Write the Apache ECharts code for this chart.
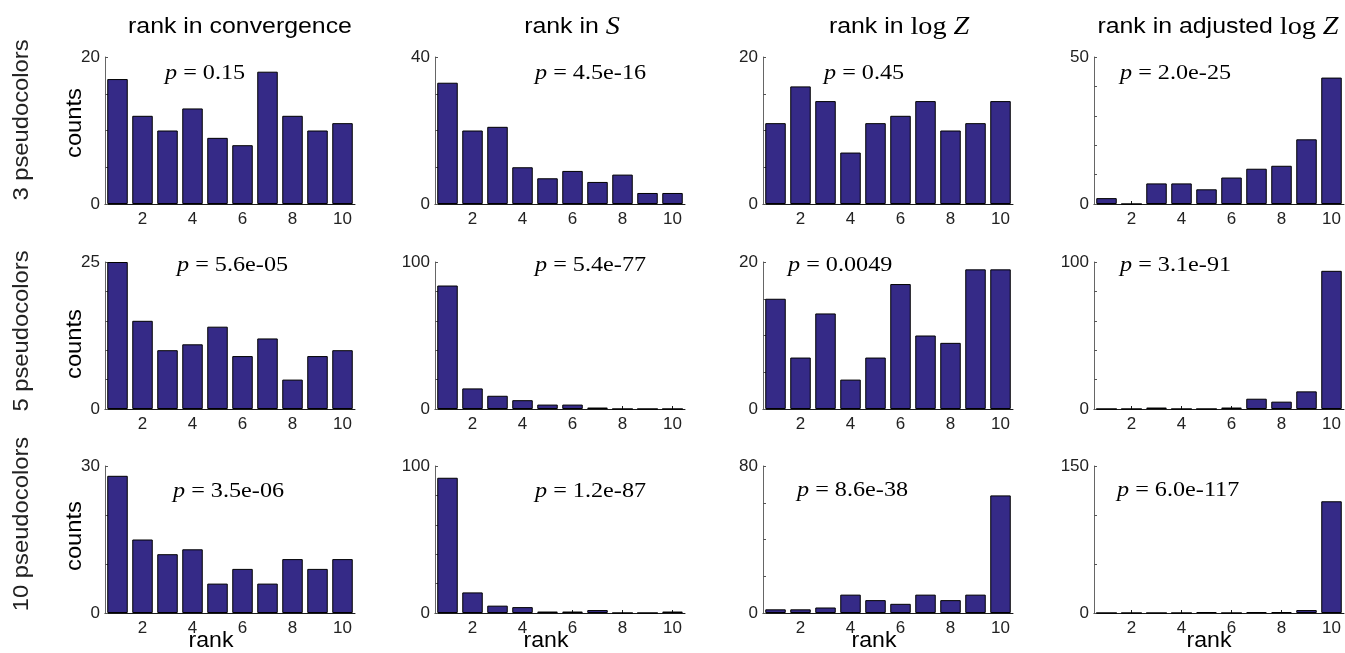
<!DOCTYPE html>
<html>
<head>
<meta charset="utf-8">
<script src="https://cdn.jsdelivr.net/npm/echarts@6/dist/echarts.min.js"></script>
<style>
  html, body { margin: 0; padding: 0; background: #ffffff; }
  #chart { width: 1345px; height: 653px; }
</style>
</head>
<body>
<div id="chart"></div>
<script>
// Rank categories on the x axis
const ranks = ['1', '2', '3', '4', '5', '6', '7', '8', '9', '10'];

// Counts per rank, 3 pseudocolors
const conv3    = [17, 12, 10, 13, 9, 8, 18, 12, 10, 11];
const entS3    = [33, 20, 21, 10, 7, 9, 6, 8, 3, 3];
const logZ3    = [11, 16, 14, 7, 11, 12, 14, 10, 11, 14];
const adjLogZ3 = [2, 0, 7, 7, 5, 9, 12, 13, 22, 43];

// Counts per rank, 5 pseudocolors
const conv5    = [25, 15, 10, 11, 14, 9, 12, 5, 9, 10];
const entS5    = [84, 14, 9, 6, 3, 3, 1, 0, 0, 0];
const logZ5    = [15, 7, 13, 4, 7, 17, 10, 9, 19, 19];
const adjLogZ5 = [0, 0, 1, 0, 0, 1, 7, 5, 12, 94];

// Counts per rank, 10 pseudocolors
const conv10    = [28, 15, 12, 13, 6, 9, 6, 11, 9, 11];
const entS10    = [92, 14, 5, 4, 1, 1, 2, 0, 0, 1];
const logZ10    = [2, 2, 3, 10, 7, 5, 10, 7, 10, 64];
const adjLogZ10 = [0, 0, 0, 0, 1, 0, 1, 1, 3, 114];

// Y axis upper limits and tick steps per panel (row by row)
const yMax  = [[20, 40, 20, 50], [25, 100, 20, 100], [30, 100, 80, 150]];
const yStep = [[5, 10, 5, 10], [5, 20, 5, 20], [10, 20, 20, 50]];

// p-values printed in each panel
const pValues = [
  ['0.15', '4.5e-16', '0.45', '2.0e-25'],
  ['5.6e-05', '5.4e-77', '0.0049', '3.1e-91'],
  ['3.5e-06', '1.2e-87', '8.6e-38', '6.0e-117']
];

// Row and column headings
const rowLabels = ['3 pseudocolors', '5 pseudocolors', '10 pseudocolors'];
const colTitles = [
  'rank in convergence',
  'rank in {it|S}',
  'rank in {rm|log} {it|Z}',
  'rank in adjusted {rm|log} {it|Z}'
];

const panelData = [
  [conv3, entS3, logZ3, adjLogZ3],
  [conv5, entS5, logZ5, adjLogZ5],
  [conv10, entS10, logZ10, adjLogZ10]
];

// ---- layout ----
const colLeft = [105, 435, 763, 1094];
const rowTop = [57, 262, 466];
const plotW = 250;
const plotH = 147;
const titleX = [240, 572, 899, 1218];
const rankX = [211, 546, 874, 1209];
const countsY = [123, 344, 536];
const rowLabelY = [120, 331, 524];
const pX = [[165, 535, 824, 1120], [177, 535, 788, 1120], [173, 535, 797, 1117]];
const pY = [[73, 73, 73, 73], [265, 265, 265, 265], [491, 491, 490, 490]];

const SANS = '"Liberation Sans", Arial, Helvetica, sans-serif';
const SERIF = '"Liberation Serif", "Times New Roman", Times, serif';
const BAR = '#352A87';

const grids = [], xAxes = [], yAxes = [], series = [], graphics = [];
const evenTick = (i) => i % 2 === 1;

for (let r = 0; r < 3; r++) {
  for (let c = 0; c < 4; c++) {
    const idx = grids.length;
    const mx = yMax[r][c];
    grids.push({ left: colLeft[c], top: rowTop[r], width: plotW, height: plotH });
    xAxes.push({
      type: 'category', gridIndex: idx, data: ranks,
      boundaryGap: true,
      axisLine: { show: true, lineStyle: { color: '#1a1a1a', width: 1 } },
      axisTick: { show: true, inside: true, length: 3, alignWithLabel: true, interval: evenTick,
                  lineStyle: { color: '#1a1a1a' } },
      axisLabel: { interval: evenTick, color: '#222', fontFamily: SANS, fontSize: 17, margin: 7 },
      splitLine: { show: false }
    });
    yAxes.push({
      type: 'value', gridIndex: idx, min: 0, max: mx, interval: yStep[r][c],
      axisLine: { show: true, lineStyle: { color: '#666', width: 1 } },
      axisTick: { show: true, inside: true, length: 3, lineStyle: { color: '#555' } },
      axisLabel: {
        color: '#222', fontFamily: SANS, fontSize: 17, margin: 5,
        formatter: (v) => (v === 0 || v === mx) ? String(v) : ''
      },
      splitLine: { show: false }
    });
    series.push({
      type: 'bar', xAxisIndex: idx, yAxisIndex: idx,
      data: panelData[r][c],
      barCategoryGap: '18%',
      itemStyle: { color: BAR, borderColor: '#000', borderWidth: 1 },
      silent: true, animation: false
    });
    // p-value annotation
    graphics.push({
      type: 'text', x: pX[r][c], y: pY[r][c], scaleX: 1.1,
      style: {
        text: '{it|p} = ' + pValues[r][c],
        fontFamily: SERIF, fontSize: 22, fill: '#000',
        align: 'left', verticalAlign: 'middle',
        rich: { it: { fontFamily: SERIF, fontStyle: 'italic', fontSize: 22, fill: '#000' } }
      }
    });
  }
  // row heading
  graphics.push({
    type: 'text', x: 22, y: rowLabelY[r], rotation: Math.PI / 2, scaleX: 1.08,
    style: { text: rowLabels[r], fontFamily: SANS, fontSize: 22, fill: '#222',
             align: 'center', verticalAlign: 'middle' }
  });
  // y axis name
  graphics.push({
    type: 'text', x: 75, y: countsY[r], rotation: Math.PI / 2, scaleX: 1.08,
    style: { text: 'counts', fontFamily: SANS, fontSize: 22, fill: '#000',
             align: 'center', verticalAlign: 'middle' }
  });
}

for (let c = 0; c < 4; c++) {
  // column titles
  graphics.push({
    type: 'text', x: titleX[c], y: 27, scaleX: 1.13,
    style: {
      text: colTitles[c], fontFamily: SANS, fontSize: 22, fill: '#000',
      align: 'center', verticalAlign: 'middle',
      rich: {
        it: { fontFamily: SERIF, fontStyle: 'italic', fontSize: 25, fill: '#000' },
        rm: { fontFamily: SERIF, fontSize: 25, fill: '#000' }
      }
    }
  });
  // x axis name
  graphics.push({
    type: 'text', x: rankX[c], y: 641, scaleX: 1.05,
    style: { text: 'rank', fontFamily: SANS, fontSize: 22, fill: '#000',
             align: 'center', verticalAlign: 'middle' }
  });
}

const chart = echarts.init(document.getElementById('chart'), null, { renderer: 'canvas' });
chart.setOption({
  animation: false,
  backgroundColor: '#ffffff',
  grid: grids,
  xAxis: xAxes,
  yAxis: yAxes,
  series: series,
  graphic: graphics
});
</script>
</body>
</html>
